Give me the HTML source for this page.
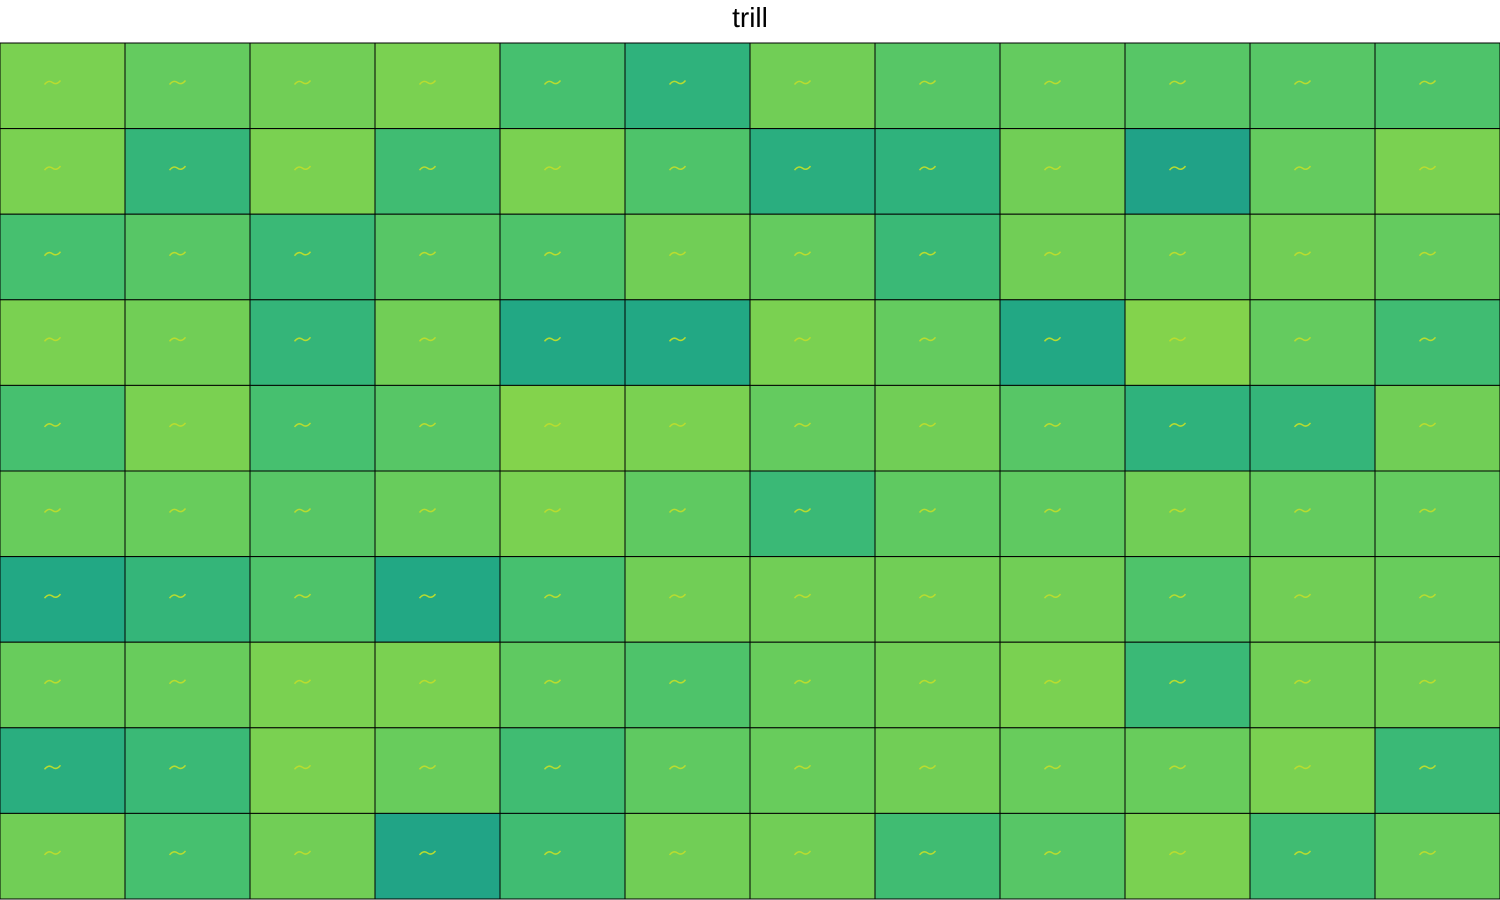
<!DOCTYPE html>
<html><head><meta charset="utf-8"><style>
html,body{margin:0;padding:0;background:#fff;width:1500px;height:900px;overflow:hidden}
#title{position:absolute;left:0;top:2px;width:1500px;text-align:center;font:28px "Liberation Sans",sans-serif;color:#000}
svg{position:absolute;left:0;top:0}
</style></head><body>
<div id="title">trill</div>
<svg id="grid" width="1500" height="900"></svg>
<script>
const rowIds = [0,1,2,3,4,5,6,7,8,9];
const colIds = [0,1,2,3,4,5,6,7,8,9,10,11];
const level0 = [0.8,0.75,0.78,0.8,0.68,0.6,0.78,0.72,0.75,0.72,0.72,0.7];
const level1 = [0.8,0.62,0.8,0.66,0.8,0.7,0.58,0.6,0.78,0.5,0.75,0.8];
const level2 = [0.68,0.72,0.64,0.72,0.7,0.78,0.75,0.64,0.78,0.75,0.78,0.75];
const level3 = [0.8,0.78,0.62,0.78,0.55,0.55,0.8,0.75,0.55,0.82,0.75,0.66];
const level4 = [0.68,0.8,0.68,0.72,0.82,0.8,0.75,0.78,0.72,0.6,0.62,0.78];
const level5 = [0.76,0.76,0.72,0.76,0.8,0.74,0.64,0.74,0.74,0.78,0.75,0.75];
const level6 = [0.55,0.62,0.7,0.55,0.68,0.78,0.78,0.78,0.78,0.7,0.78,0.76];
const level7 = [0.76,0.76,0.8,0.8,0.74,0.7,0.76,0.78,0.8,0.64,0.78,0.78];
const level8 = [0.58,0.64,0.8,0.76,0.66,0.74,0.76,0.78,0.76,0.76,0.8,0.64];
const level9 = [0.78,0.68,0.78,0.52,0.66,0.78,0.78,0.66,0.72,0.8,0.66,0.76];
const levels = [level0,level1,level2,level3,level4,level5,level6,level7,level8,level9];

const vir = [[0.5,[33,145,140]],[0.55,[31,160,136]],[0.6,[34,168,132]],[0.65,[50,180,122]],[0.7,[68,191,112]],[0.75,[94,201,98]],[0.8,[122,209,81]],[0.85,[149,216,64]]];
function color(v0){
  const v = 0.56 + (v0-0.5)*0.8;
  if(v<=vir[0][0]) return 'rgb('+vir[0][1]+')';
  for(let i=1;i<vir.length;i++){
    if(v<=vir[i][0]){
      const a=vir[i-1],b=vir[i],t=(v-a[0])/(b[0]-a[0]);
      const c=a[1].map((x,k)=>Math.round(x+(b[1][k]-x)*t));
      return 'rgb('+c.join(',')+')';
    }
  }
  return 'rgb('+vir[vir.length-1][1]+')';
}
const x0=0,y0=43,W=1500,H=856;
const cw=W/colIds.length, rh=H/rowIds.length;
const xs=c=>x0+c*cw, ys=r=>y0+r*rh;
const svg=document.getElementById('grid');
const NS='http://www.w3.org/2000/svg';
rowIds.forEach(r=>{
  colIds.forEach(c=>{
    const rect=document.createElementNS(NS,'rect');
    rect.setAttribute('x',xs(c));rect.setAttribute('y',ys(r));
    rect.setAttribute('width',cw);rect.setAttribute('height',rh);
    rect.setAttribute('fill',color(levels[r][c]));
    rect.setAttribute('stroke','#000');rect.setAttribute('stroke-width','1');
    
    
    svg.appendChild(rect);
    const p=document.createElementNS(NS,'path');
    const cx=xs(c)+cw*0.42, cy=ys(r)+rh*0.45;
    p.setAttribute('d','M'+(cx-8)+' '+(cy+3)+' q4 -5 8 -2 t8 -2');
    p.setAttribute('stroke','#b8dc30');p.setAttribute('fill','none');p.setAttribute('stroke-width','1.5');
    
    
    svg.appendChild(p);
  });
});
</script>
</body></html>
